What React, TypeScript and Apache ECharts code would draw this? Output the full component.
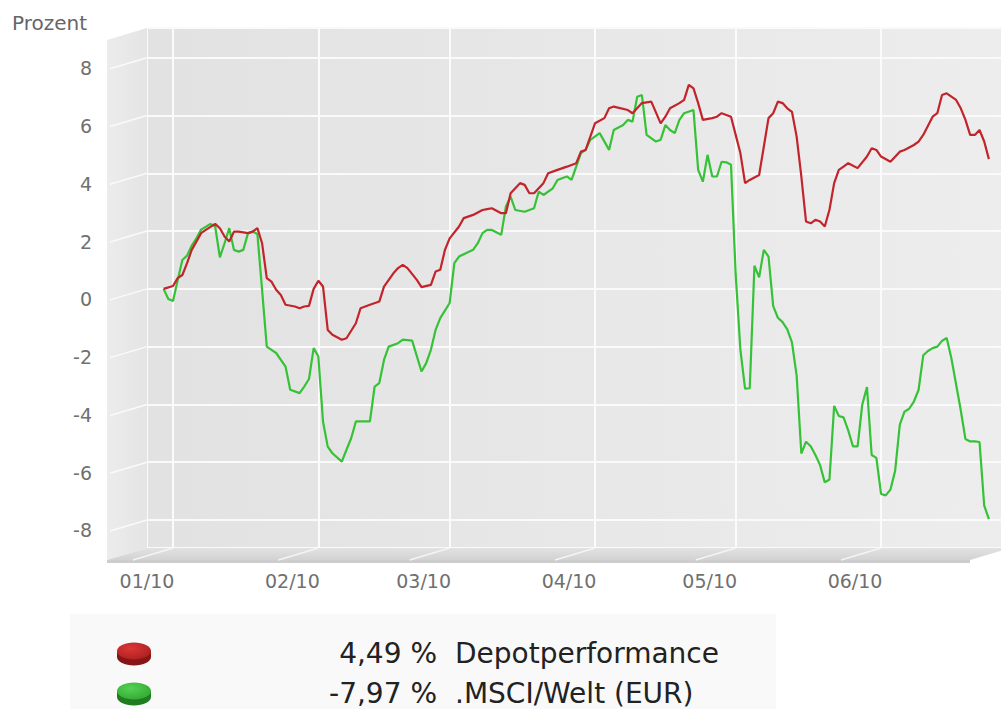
import React, { useEffect, useRef } from 'react';
import * as echarts from 'echarts';

const seriesNames = ['Depotperformance', '.MSCI/Welt (EUR)'];
const finalValues = ['4,49 %', '-7,97 %'];
const seriesColors = ['#c2242b', '#36c236'];
const yAxisTitle = 'Prozent';
const monthStarts = ['2010-01-01', '2010-02-01', '2010-03-01', '2010-04-01', '2010-05-01', '2010-06-01'];
const yTicks = [-8, -6, -4, -2, 0, 2, 4, 6, 8];

const depotData: [string, number][] = [
  ['2009-12-30', 0.0], ['2010-01-01', 0.1], ['2010-01-02', 0.37], ['2010-01-03', 0.48], ['2010-01-04', 0.89],
  ['2010-01-05', 1.35], ['2010-01-07', 1.93], ['2010-01-08', 2.04], ['2010-01-10', 2.25], ['2010-01-11', 2.1],
  ['2010-01-12', 1.81], ['2010-01-13', 1.64], ['2010-01-14', 1.98], ['2010-01-15', 1.98], ['2010-01-17', 1.93],
  ['2010-01-18', 1.98], ['2010-01-19', 2.1], ['2010-01-20', 1.58], ['2010-01-21', 0.37], ['2010-01-22', 0.25],
  ['2010-01-23', -0.03], ['2010-01-24', -0.21], ['2010-01-25', -0.55], ['2010-01-27', -0.61], ['2010-01-28', -0.67],
  ['2010-01-29', -0.61], ['2010-01-30', -0.59], ['2010-01-31', 0.0], ['2010-02-01', 0.28], ['2010-02-02', 0.08],
  ['2010-02-03', -1.42], ['2010-02-04', -1.59], ['2010-02-06', -1.76], ['2010-02-07', -1.71], ['2010-02-09', -1.19],
  ['2010-02-10', -0.67], ['2010-02-12', -0.55], ['2010-02-14', -0.44], ['2010-02-15', 0.08], ['2010-02-17', 0.54],
  ['2010-02-18', 0.72], ['2010-02-19', 0.83], ['2010-02-20', 0.72], ['2010-02-22', 0.31], ['2010-02-23', 0.06],
  ['2010-02-25', 0.14], ['2010-02-26', 0.6], ['2010-02-27', 0.66], ['2010-02-28', 1.35], ['2010-03-01', 1.75],
  ['2010-03-03', 2.16], ['2010-03-04', 2.45], ['2010-03-06', 2.56], ['2010-03-08', 2.73], ['2010-03-09', 2.76],
  ['2010-03-10', 2.79], ['2010-03-12', 2.62], ['2010-03-13', 2.62], ['2010-03-14', 3.31], ['2010-03-16', 3.66],
  ['2010-03-17', 3.6], ['2010-03-18', 3.31], ['2010-03-19', 3.31], ['2010-03-21', 3.66], ['2010-03-22', 4.0],
  ['2010-03-24', 4.12], ['2010-03-26', 4.23], ['2010-03-28', 4.35], ['2010-03-29', 4.75], ['2010-03-30', 4.81],
  ['2010-04-01', 5.73], ['2010-04-03', 5.91], ['2010-04-04', 6.25], ['2010-04-05', 6.31], ['2010-04-08', 6.19],
  ['2010-04-09', 6.08], ['2010-04-11', 6.43], ['2010-04-13', 6.48], ['2010-04-15', 5.73], ['2010-04-16', 5.96],
  ['2010-04-17', 6.25], ['2010-04-19', 6.43], ['2010-04-20', 6.54], ['2010-04-21', 7.06], ['2010-04-22', 6.94],
  ['2010-04-23', 6.43], ['2010-04-24', 5.85], ['2010-04-26', 5.91], ['2010-04-27', 5.96], ['2010-04-28', 6.08],
  ['2010-04-30', 5.96], ['2010-05-01', 5.33], ['2010-05-02', 4.7], ['2010-05-03', 3.66], ['2010-05-04', 3.77],
  ['2010-05-06', 3.94], ['2010-05-07', 4.92], ['2010-05-08', 5.91], ['2010-05-09', 6.08], ['2010-05-10', 6.48],
  ['2010-05-11', 6.43], ['2010-05-12', 6.25], ['2010-05-13', 6.13], ['2010-05-14', 5.27], ['2010-05-15', 3.89],
  ['2010-05-16', 2.33], ['2010-05-17', 2.27], ['2010-05-18', 2.39], ['2010-05-19', 2.33], ['2010-05-20', 2.16],
  ['2010-05-21', 2.74], ['2010-05-22', 3.66], ['2010-05-23', 4.12], ['2010-05-24', 4.23], ['2010-05-25', 4.35],
  ['2010-05-27', 4.18], ['2010-05-29', 4.58], ['2010-05-30', 4.87], ['2010-05-31', 4.81], ['2010-06-01', 4.58],
  ['2010-06-03', 4.4], ['2010-06-05', 4.75], ['2010-06-06', 4.81], ['2010-06-08', 4.98], ['2010-06-09', 5.1],
  ['2010-06-10', 5.33], ['2010-06-12', 5.96], ['2010-06-13', 6.08], ['2010-06-14', 6.71], ['2010-06-15', 6.77],
  ['2010-06-17', 6.54], ['2010-06-18', 6.25], ['2010-06-19', 5.85], ['2010-06-20', 5.33], ['2010-06-21', 5.33],
  ['2010-06-22', 5.5], ['2010-06-23', 5.1], ['2010-06-24', 4.49],
];

const msciData: [string, number][] = [
  ['2009-12-30', 0.0], ['2009-12-31', -0.35], ['2010-01-01', -0.42], ['2010-01-02', 0.3], ['2010-01-03', 1.0],
  ['2010-01-04', 1.15], ['2010-01-05', 1.5], ['2010-01-06', 1.75], ['2010-01-07', 2.05], ['2010-01-09', 2.25],
  ['2010-01-10', 2.16], ['2010-01-11', 1.09], ['2010-01-12', 1.58], ['2010-01-13', 2.1], ['2010-01-14', 1.35],
  ['2010-01-15', 1.29], ['2010-01-16', 1.35], ['2010-01-17', 1.93], ['2010-01-18', 1.98], ['2010-01-19', 1.9],
  ['2010-01-20', -0.03], ['2010-01-21', -2.0], ['2010-01-22', -2.11], ['2010-01-23', -2.22], ['2010-01-25', -2.69],
  ['2010-01-26', -3.49], ['2010-01-28', -3.61], ['2010-01-29', -3.38], ['2010-01-30', -3.12], ['2010-01-31', -2.05],
  ['2010-02-01', -2.34], ['2010-02-02', -4.6], ['2010-02-03', -5.46], ['2010-02-04', -5.69], ['2010-02-06', -5.98],
  ['2010-02-07', -5.57], ['2010-02-08', -5.17], ['2010-02-09', -4.59], ['2010-02-12', -4.59], ['2010-02-13', -3.38],
  ['2010-02-14', -3.26], ['2010-02-15', -2.46], ['2010-02-16', -2.0], ['2010-02-18', -1.88], ['2010-02-19', -1.76],
  ['2010-02-21', -1.79], ['2010-02-23', -2.86], ['2010-02-24', -2.57], ['2010-02-25', -2.11], ['2010-02-26', -1.42],
  ['2010-02-27', -1.01], ['2010-03-01', -0.49], ['2010-03-02', 0.89], ['2010-03-03', 1.12], ['2010-03-06', 1.35],
  ['2010-03-07', 1.58], ['2010-03-08', 1.93], ['2010-03-09', 2.04], ['2010-03-10', 2.04], ['2010-03-12', 1.87],
  ['2010-03-13', 2.85], ['2010-03-14', 3.19], ['2010-03-15', 2.73], ['2010-03-17', 2.67], ['2010-03-19', 2.79],
  ['2010-03-20', 3.37], ['2010-03-21', 3.25], ['2010-03-23', 3.48], ['2010-03-24', 3.77], ['2010-03-26', 3.89],
  ['2010-03-27', 3.77], ['2010-03-29', 4.7], ['2010-03-30', 4.81], ['2010-03-31', 5.16], ['2010-04-02', 5.39],
  ['2010-04-04', 4.81], ['2010-04-05', 5.5], ['2010-04-07', 5.67], ['2010-04-08', 5.85], ['2010-04-09', 5.79],
  ['2010-04-10', 6.65], ['2010-04-11', 6.71], ['2010-04-12', 5.33], ['2010-04-14', 5.1], ['2010-04-15', 5.16],
  ['2010-04-16', 5.67], ['2010-04-17', 5.5], ['2010-04-18', 5.39], ['2010-04-19', 5.85], ['2010-04-20', 6.08],
  ['2010-04-22', 6.19], ['2010-04-23', 4.12], ['2010-04-24', 3.71], ['2010-04-25', 4.64], ['2010-04-26', 3.89],
  ['2010-04-27', 3.89], ['2010-04-28', 4.4], ['2010-04-29', 4.38], ['2010-04-30', 4.3], ['2010-05-01', 0.5],
  ['2010-05-02', -2.1], ['2010-05-03', -3.45], ['2010-05-04', -3.44], ['2010-05-05', 0.8], ['2010-05-06', 0.4],
  ['2010-05-07', 1.35], ['2010-05-08', 1.12], ['2010-05-09', -0.6], ['2010-05-10', -1.0], ['2010-05-11', -1.15],
  ['2010-05-12', -1.4], ['2010-05-13', -1.85], ['2010-05-14', -3.0], ['2010-05-15', -5.7], ['2010-05-16', -5.29],
  ['2010-05-17', -5.45], ['2010-05-18', -5.75], ['2010-05-19', -6.1], ['2010-05-20', -6.7], ['2010-05-21', -6.6],
  ['2010-05-22', -4.05], ['2010-05-23', -4.4], ['2010-05-24', -4.45], ['2010-05-25', -4.9], ['2010-05-26', -5.45],
  ['2010-05-27', -5.45], ['2010-05-28', -4.0], ['2010-05-29', -3.4], ['2010-05-30', -5.75], ['2010-05-31', -5.85],
  ['2010-06-01', -7.1], ['2010-06-02', -7.15], ['2010-06-03', -6.95], ['2010-06-04', -6.3], ['2010-06-05', -4.7],
  ['2010-06-06', -4.25], ['2010-06-07', -4.15], ['2010-06-08', -3.9], ['2010-06-09', -3.5], ['2010-06-10', -2.3],
  ['2010-06-11', -2.15], ['2010-06-12', -2.05], ['2010-06-13', -2.0], ['2010-06-14', -1.8], ['2010-06-15', -1.7],
  ['2010-06-16', -2.4], ['2010-06-17', -3.3], ['2010-06-18', -4.2], ['2010-06-19', -5.2], ['2010-06-20', -5.28],
  ['2010-06-21', -5.28], ['2010-06-22', -5.3], ['2010-06-23', -7.5], ['2010-06-24', -7.97],
];

// layout of the pseudo-3D box
const CHART_W = 1020;
const CHART_H = 709;
const GRID_L = 147;
const GRID_T = 28;
const GRID_R = 1010;
const GRID_B = 548;
const DX = 40;
const DY = 12;
const FONT = '"DejaVu Sans", sans-serif';

function pad2(n: number) {
  return n < 10 ? '0' + n : String(n);
}

export default function App() {
  const ref = useRef<HTMLDivElement>(null);

  useEffect(() => {
    if (!ref.current) return;
    const chart = echarts.init(ref.current, null, { renderer: 'svg' });
    const xMin = new Date(2009, 11, 26, 11).getTime();
    const xMax = new Date(2010, 5, 28, 12).getTime();

    chart.setOption({
      animation: false,
      backgroundColor: 'transparent',
      grid: {
        left: GRID_L,
        top: GRID_T,
        right: CHART_W - GRID_R,
        bottom: CHART_H - GRID_B,
        show: true,
        borderWidth: 0,
        backgroundColor: new echarts.graphic.LinearGradient(0, 0, 1, 0, [
          { offset: 0, color: '#e2e2e2' },
          { offset: 1, color: '#ededed' },
        ]),
      },
      xAxis: {
        type: 'time',
        min: xMin,
        max: xMax,
        splitNumber: 6,
        axisLine: { show: false },
        axisTick: { show: false },
        splitLine: { show: true, lineStyle: { color: '#fbfbfb', width: 2 } },
        axisLabel: {
          margin: 23,
          padding: [0, 52, 0, 0],
          color: '#707070',
          fontFamily: FONT,
          fontSize: 19,
          hideOverlap: false,
          formatter: (val: number) => {
            const d = new Date(val);
            if (d.getDate() !== 1 || d.getHours() !== 0) return '';
            return pad2(d.getMonth() + 1) + '/' + String(d.getFullYear()).slice(2);
          },
        },
      },
      yAxis: {
        type: 'value',
        min: -8.97,
        max: 9.03,
        minInterval: 2,
        maxInterval: 2,
        axisLine: { show: false },
        axisTick: { show: false },
        splitLine: { show: true, lineStyle: { color: '#fafafa', width: 2 } },
        axisLabel: {
          margin: 55,
          verticalAlign: 'top',
          padding: [1, 0, 0, 0],
          color: '#707070',
          fontFamily: FONT,
          fontSize: 19,
          showMinLabel: false,
          showMaxLabel: false,
          formatter: (v: number) => (Math.abs(v - Math.round(v)) < 1e-6 && Math.round(v) % 2 === 0 ? String(Math.round(v)) : ''),
        },
      },
      series: [
        {
          name: seriesNames[0],
          type: 'line',
          data: depotData,
          showSymbol: false,
          symbol: 'none',
          lineStyle: { color: seriesColors[0], width: 2.2 },
          z: 3,
        },
        {
          name: seriesNames[1],
          type: 'line',
          data: msciData,
          showSymbol: false,
          symbol: 'none',
          lineStyle: { color: seriesColors[1], width: 2.2 },
          z: 2,
        },
      ],
    });

    // decorative 3D box pieces, positioned through the axes
    const graphics: any[] = [];
    graphics.push({
      type: 'polygon',
      shape: { points: [[GRID_L - DX, GRID_T + DY], [GRID_L, GRID_T], [GRID_L, GRID_B], [GRID_L - DX, GRID_B + DY]] },
      style: {
        fill: new echarts.graphic.LinearGradient(0, 0, 1, 0, [
          { offset: 0, color: '#ececec' },
          { offset: 1, color: '#e4e4e4' },
        ]),
      },
      z: 0,
    });
    graphics.push({
      type: 'polygon',
      shape: { points: [[GRID_L - DX, GRID_B + DY], [GRID_L, GRID_B], [GRID_R, GRID_B], [GRID_R - DX, GRID_B + DY]] },
      style: {
        fill: new echarts.graphic.LinearGradient(0, 0, 0, 1, [
          { offset: 0, color: '#e2e2e2' },
          { offset: 1, color: '#d2d2d2' },
        ]),
      },
      z: 0,
    });
    graphics.push({
      type: 'rect',
      shape: { x: GRID_L - DX, y: GRID_B + DY, width: GRID_R - GRID_L, height: 3 },
      style: { fill: '#cdcdcd' },
      z: 0,
    });
    yTicks.forEach((v) => {
      const y = chart.convertToPixel({ yAxisIndex: 0 }, v) as number;
      graphics.push({
        type: 'line',
        shape: { x1: GRID_L, y1: y, x2: GRID_L - DX + 3, y2: y + DY - 1 },
        style: { stroke: '#fafafa', lineWidth: 1.5 },
        z: 1,
      });
    });
    monthStarts.forEach((m) => {
      const x = chart.convertToPixel({ xAxisIndex: 0 }, m) as number;
      graphics.push({
        type: 'line',
        shape: { x1: x, y1: GRID_B, x2: x - DX, y2: GRID_B + DY },
        style: { stroke: '#f4f4f4', lineWidth: 1.5 },
        z: 1,
      });
    });
    graphics.push({
      type: 'text',
      style: { text: yAxisTitle, x: 12, y: 23, fill: '#666', font: '20px "DejaVu Sans", sans-serif', textVerticalAlign: 'middle' },
      z: 5,
    });

    // legend panel
    graphics.push({
      type: 'rect',
      shape: { x: 70, y: 614, width: 706, height: 100 },
      style: { fill: '#f9f9f9' },
      z: 0,
    });
    const pillColors = [
      { top: '#dc3636', bottom: '#a51d1d', side: '#861515' },
      { top: '#55d155', bottom: '#2ea42e', side: '#1f7d1f' },
    ];
    const rowY = [653, 693];
    seriesNames.forEach((name, i) => {
      const cy = rowY[i];
      const pc = pillColors[i];
      graphics.push({ type: 'ellipse', shape: { cx: 134, cy: cy + 4, rx: 17, ry: 8.5 }, style: { fill: pc.side }, z: 5 });
      graphics.push({ type: 'rect', shape: { x: 117, y: cy - 2, width: 34, height: 6 }, style: { fill: pc.side }, z: 5 });
      graphics.push({
        type: 'ellipse',
        shape: { cx: 134, cy: cy - 2, rx: 17, ry: 8.5 },
        style: {
          fill: new echarts.graphic.RadialGradient(0.4, 0.35, 0.8, [
            { offset: 0, color: pc.top },
            { offset: 1, color: pc.bottom },
          ]),
        },
        z: 6,
      });
      graphics.push({
        type: 'text',
        style: { text: finalValues[i], x: 437, y: cy, fill: '#222', font: '28px "DejaVu Sans", sans-serif', textAlign: 'right', textVerticalAlign: 'middle' },
        z: 6,
      });
      graphics.push({
        type: 'text',
        style: { text: name, x: 455, y: cy, fill: '#222', font: '28px "DejaVu Sans", sans-serif', textAlign: 'left', textVerticalAlign: 'middle' },
        z: 6,
      });
    });

    chart.setOption({ graphic: graphics });

    return () => {
      chart.dispose();
    };
  }, []);

  return (
    <div style={{ position: 'fixed', left: 0, top: 0, width: 1001, height: 709, overflow: 'hidden', background: '#fff' }}>
      <div ref={ref} style={{ width: CHART_W, height: CHART_H }} />
    </div>
  );
}
